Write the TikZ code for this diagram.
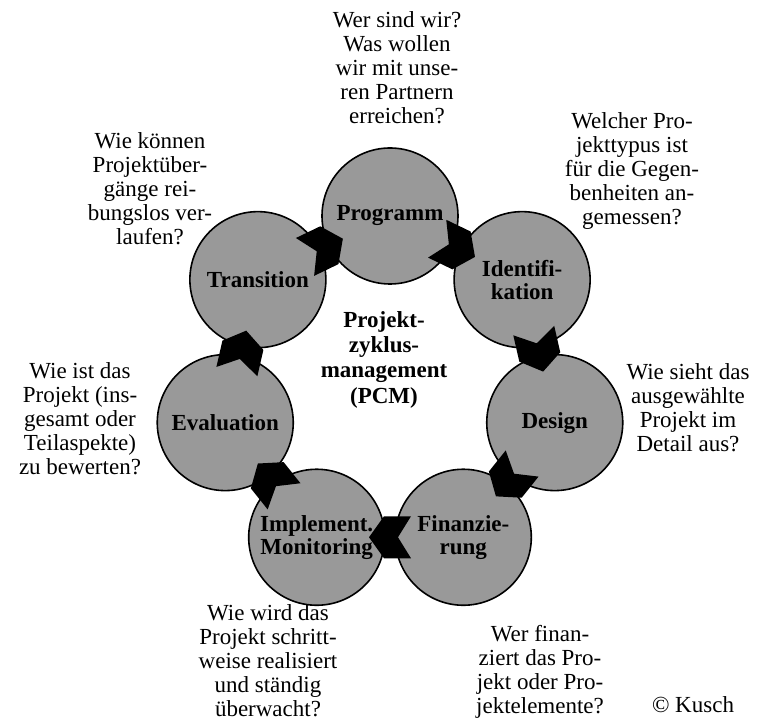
\documentclass[tikz,border=0pt]{standalone}
\usepackage{fontspec}
\setmainfont{Liberation Serif}
\usetikzlibrary{calc}
\definecolor{phasegray}{RGB}{153,153,153}
\tikzset{
  phase/.style={circle, draw=black, line width=1.6pt, fill=phasegray,
    minimum size=136pt, inner sep=0pt, align=center,
    font=\fontsize{23}{23}\selectfont\bfseries},
  question/.style={align=center, inner sep=0pt, anchor=north,
    font=\fontsize{23}{24}\selectfont},
  hub/.style={align=center, inner sep=0pt, anchor=north,
    font=\fontsize{23}{25.3}\selectfont\bfseries},
  chev/.pic={\fill[black] (21,0) -- (6,21) -- (-21,21) -- (-8,0) -- (-21,-21) -- (6,-21) -- cycle;}
}
\begin{document}
\begin{tikzpicture}[x=1pt,y=1pt]
\useasboundingbox (0,0) rectangle (760,720);
\coordinate (ring) at (390,335);
% the seven project phases, clockwise from the top
\node[phase] (c1) at ($(ring)+(90:169)$) {Programm};
\node[phase] (c2) at ($(ring)+(38.57:169)$) {Identifi-\\kation};
\node[phase] (c3) at ($(ring)+(-12.86:169)$) {Design};
\node[phase] (c4) at ($(ring)+(-64.29:169)$) {Finanzie-\\rung};
\node[phase] (c5) at ($(ring)+(-115.71:169)$) {Implement.\\Monitoring};
\node[phase] (c6) at ($(ring)+(-167.14:169)$) {Evaluation};
\node[phase] (c7) at ($(ring)+(141.43:169)$) {Transition};
% chevrons between neighbouring phases
\path ($(c1)!0.5!(c2)$) pic[rotate=-25.71] {chev};
\path ($(c2)!0.5!(c3)$) pic[rotate=-77.14] {chev};
\path ($(c3)!0.5!(c4)$) pic[rotate=-128.57] {chev};
\path ($(c4)!0.5!(c5)$) pic[rotate=-180] {chev};
\path ($(c5)!0.5!(c6)$) pic[rotate=128.57] {chev};
\path ($(c6)!0.5!(c7)$) pic[rotate=77.14] {chev};
\path ($(c7)!0.5!(c1)$) pic[rotate=25.71] {chev};
% centre title
\node[hub] (title) at (384,409) {Projekt-\\zyklus-\\management\\(PCM)};
% guiding questions
\node[question] (q1) at (397,709) {Wer sind wir?\\Was wollen\\wir mit unse-\\ren Partnern\\erreichen?};
\node[question] (q2) at (632,608) {Welcher Pro-\\jekttypus ist\\für die Gegen-\\benheiten an-\\gemessen?};
\node[question] (q3) at (688,357) {Wie sieht das\\ausgewählte\\Projekt im\\Detail aus?};
\node[question] (q4) at (540,95) {Wer finan-\\ziert das Pro-\\jekt oder Pro-\\jektelemente?};
\node[question] (q5) at (268,116) {Wie wird das\\Projekt schritt-\\weise realisiert\\und ständig\\überwacht?};
\node[question] (q6) at (80,358) {Wie ist das\\Projekt (ins-\\gesamt oder\\Teilaspekte)\\zu bewerten?};
\node[question] (q7) at (150,588) {Wie können\\Projektüber-\\gänge rei-\\bungslos ver-\\laufen?};
\node[question, anchor=base] (credit) at (693,8) {© Kusch};
\end{tikzpicture}
\end{document}
